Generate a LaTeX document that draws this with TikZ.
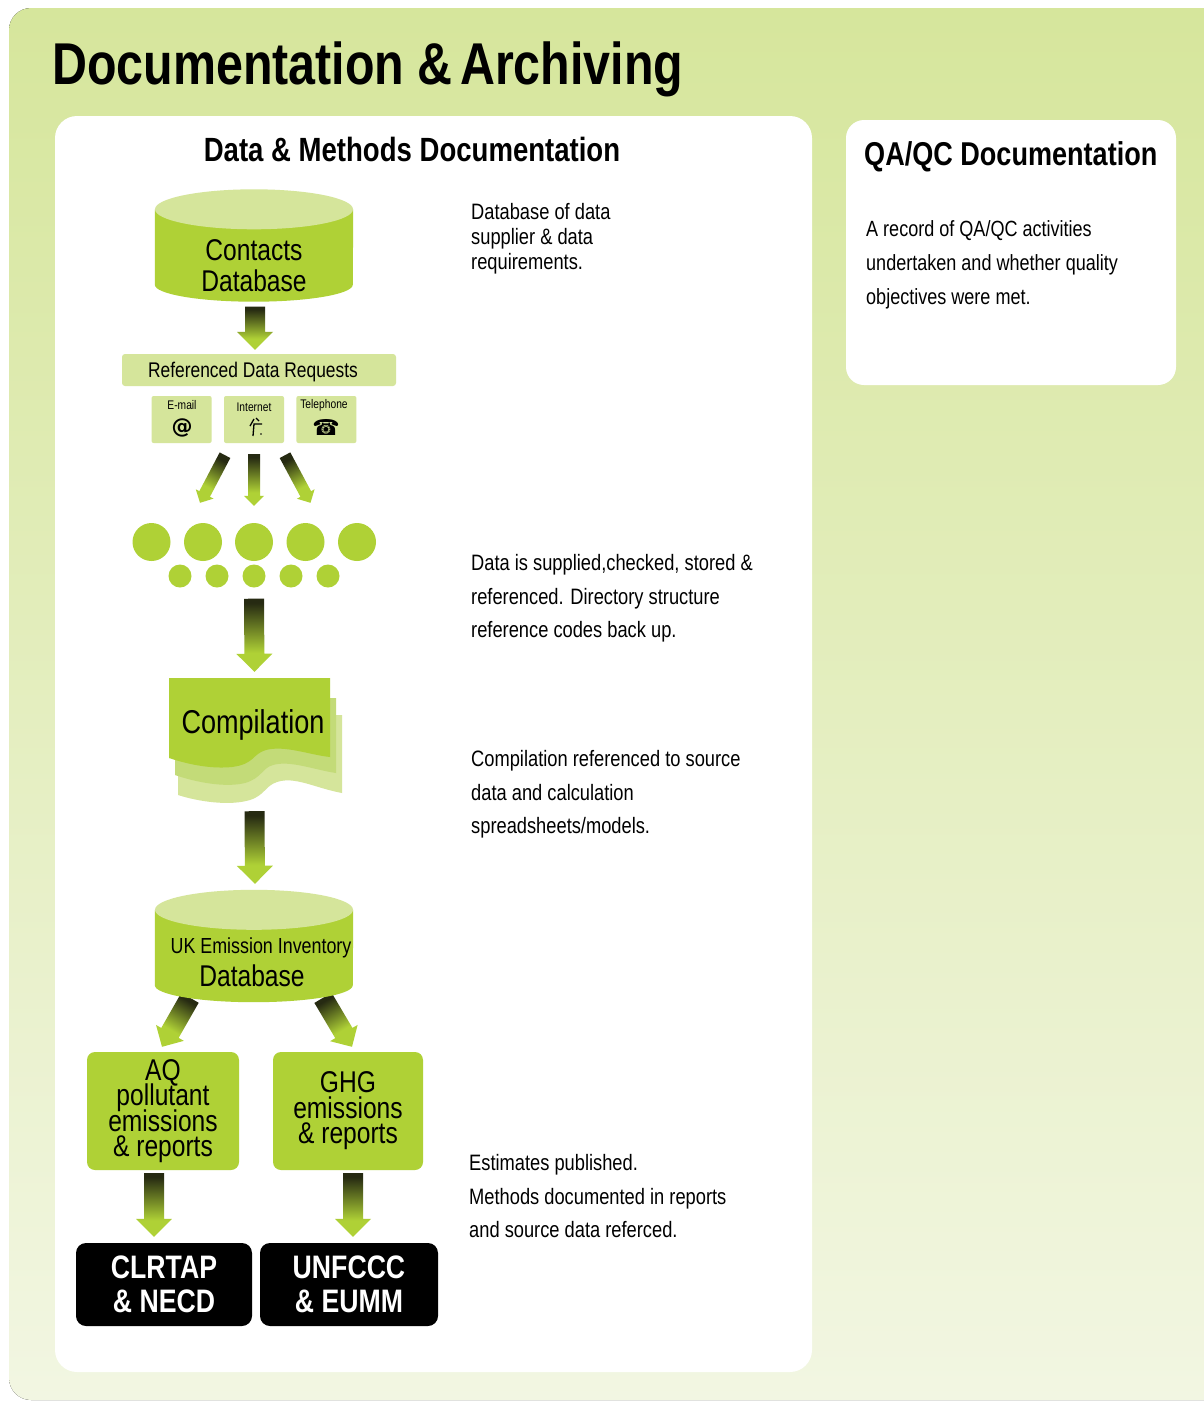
\documentclass[tikz,border=0pt]{standalone}
\usepackage{fontspec}
\usepackage{xcolor}
\setmainfont[FakeStretch=0.82]{Liberation Sans}
\newfontfamily\iconfont{DejaVu Sans}
\usetikzlibrary{calc,positioning}

\definecolor{leaf}{HTML}{AFD136}
\definecolor{pale}{HTML}{D5E59B}
\definecolor{midleaf}{HTML}{C3DB78}
\definecolor{flowdark}{HTML}{262A12}
\definecolor{paneltop}{HTML}{D6E69C}
\definecolor{panelbottom}{HTML}{F2F6E2}

\pgfdeclareverticalshading{flowshade}{100bp}{color(0bp)=(leaf); color(38bp)=(leaf); color(72bp)=(flowdark); color(100bp)=(flowdark)}

\newcommand{\fs}[2]{\fontsize{#1}{#2}\selectfont\lineskiplimit=-30pt}

% [shading angle]{tail}{tip}{body width}{head width}
\newcommand{\flowarrow}[5][0]{
  \coordinate (tail) at (#2);
  \coordinate (tip) at (#3);
  \pgfmathsetmacro\halfbody{#4/2}
  \pgfmathsetmacro\halfhead{#5/2}
  \coordinate (neck) at ($(tip)!\halfhead pt!(tail)$);
  \path[shading=flowshade, shading angle=#1]
    ($(tail)!\halfbody pt!90:(tip)$) -- ($(neck)!\halfbody pt!90:(tip)$)
    -- ($(neck)!\halfhead pt!90:(tip)$) -- (tip)
    -- ($(neck)!\halfhead pt!-90:(tip)$) -- ($(neck)!\halfbody pt!-90:(tip)$)
    -- ($(tail)!\halfbody pt!-90:(tip)$) -- cycle;
}

% {name}{centre}
\newcommand{\drum}[2]{
  \node[inner sep=0pt, minimum width=198pt, minimum height=112pt] (#1) at (#2) {};
  \fill[leaf] ($(#1.north west)+(0,20)$) -- ($(#1.south west)+(0,-17)$)
    arc[start angle=180, end angle=360, x radius=99pt, y radius=17pt]
    -- ($(#1.north east)+(0,20)$) -- cycle;
  \fill[pale] ($(#1.north)+(0,20)$) ellipse (99pt and 20pt);
}

\begin{document}
\begin{tikzpicture}[
      x=1pt, y=-1pt,
      panel/.style={fill=white, rounded corners=#1},
      request/.style={
            fill=pale, rounded corners=2pt, inner sep=0pt,
            minimum width=60pt, minimum height=47pt
        },
      output/.style={
            fill=leaf, rounded corners=8pt, inner sep=0pt, align=center,
            minimum height=118pt, text=black, font=\fs{30}{25.5}
        },
      body/.style={
            fill=black, rounded corners=10pt, inner sep=0pt, align=center,
            minimum height=83pt, text=white, font=\bfseries\fs{32.5}{34}
        },
      inside/.style={inner sep=0pt, align=center, text=black, font=\fs{30}{31}},
      note/.style={inner sep=0pt, anchor=west, align=left, text=black},
      tiny/.style={inner sep=0pt, text=black, font=\fs{12.5}{14}}
      ]
    \useasboundingbox (0,0) rectangle (1204,1401);

    \fill[top color=paneltop, bottom color=panelbottom, rounded corners=22pt]
      (9,8) rectangle (1240,1400);
    \node[inner sep=0pt, anchor=west, font=\bfseries\fs{59}{60}] (title) at (52,69) {Documentation \&\kern-6pt\ Archiving};

    \path[panel=22pt] (55,116) rectangle (812,1372);
    \path[panel=18pt] (846,120) rectangle (1176,385);

    \node[inner sep=0pt, font=\bfseries\fs{33.6}{34}] (methods) at (412,149) {Data \& Methods Documentation};
    \node[inner sep=0pt, anchor=west, font=\bfseries\fs{33}{34}] (qaqc) at (864,157) {QA/QC Documentation};
    \node[note, font=\fs{22}{34}] (qanote) at (866,265) {A record of QA/QC activities\\undertaken and whether quality\\objectives were met.};

    % left column
    \drum{contacts}{254,245.5}
    \node[inside] (contactstext) at (254,266) {Contacts\\Database};

    \node[fill=pale, rounded corners=3pt, inner sep=0pt, minimum width=274pt, minimum height=32pt] (requests) at (259,370) {};
    \node[inside, font=\fs{21.2}{22}] (requeststext) at (253,372) {Referenced Data Requests};

    \node[request] (internet) at (254,419.5) {};
    \node[request, left=12pt of internet] (email) {};
    \node[request, right=12pt of internet] (telephone) {};
    \node[tiny] (emailtext) at (182,405) {E-mail};
    \node[tiny] (internettext) at (254,407) {Internet};
    \node[tiny] (telephonetext) at (324,405) {Telephone};
    \node[inner sep=0pt, font=\iconfont\bfseries\fs{21}{22}] (emailicon) at (182,428) {@};
    \node[inner sep=0pt, font=\iconfont\fs{22}{23}] (telephoneicon) at (326,427) {☎};
    \draw[line width=1.3pt] (253,436) -- (254,424) -- (262,424) (250,426) -- (254,419) (256,418) -- (259,421);
    \fill (261,434) circle (0.9pt);

    \foreach \bigx [count=\i] in {151.5,203,254,305.5,357}
      \node[circle, fill=leaf, inner sep=0pt, minimum size=38pt] (big\i) at (\bigx,542) {};
    \foreach \smallx [count=\i] in {180,217,254,291,328}
      \node[circle, fill=leaf, inner sep=0pt, minimum size=23pt] (small\i) at (\smallx,576) {};

    \fill[pale] (178,770) -- (178,715) -- (342,715) -- (342,793)
      .. controls (315,788) and (295,776) .. (277,782)
      .. controls (265,786) and (265,795) .. (250,800)
      .. controls (230,806) and (200,802) .. (178,795) -- cycle;
    \fill[midleaf] (175,740) -- (175,698) -- (336,698) -- (336,773)
      .. controls (315,770) and (290,760) .. (273,765)
      .. controls (262,768) and (262,778) .. (245,783)
      .. controls (225,788) and (195,782) .. (175,775) -- cycle;
    \fill[leaf] (169,678) -- (330,678) -- (330,757)
      .. controls (310,755) and (285,745) .. (266,750)
      .. controls (252,754) and (255,764) .. (232,767)
      .. controls (212,769) and (190,765) .. (169,758) -- cycle;
    \node[inner sep=0pt, minimum width=161pt, minimum height=79pt] (sheet) at (249.5,717.5) {};
    \node[inside, font=\fs{33}{34}] (compilation) at (253,725) {Compilation};

    \node[output, minimum width=152pt] (aq) at (163,1111) {AQ\\pollutant\\emissions\\\& reports};
    \node[output, minimum width=150pt] (ghg) at (348,1111) {GHG\\emissions\\\& reports};
    \node[body, minimum width=176pt] (clrtap) at (164,1284.5) {CLRTAP\\\& NECD};
    \node[body, minimum width=178pt] (unfccc) at (349,1284.5) {UNFCCC\\\& EUMM};

    \flowarrow[-30]{$(aq.north)+(27,-54)$}{$(aq.north)+(-1,-5)$}{20}{32}
    \flowarrow[30]{$(ghg.north)+(-25,-54)$}{$(ghg.north)+(4,-5)$}{20}{32}

    \drum{inventory}{254,946}
    \node[inside, font=\fs{21.8}{23}] (inventorytext) at (261,948) {UK Emission Inventory};
    \node[inside] (inventoryname) at (252,976) {Database};

    \flowarrow{$(contacts.south)+(1,5)$}{$(requests.north)+(-4,-4)$}{20}{36}
    \flowarrow[-28]{$(internet.south)+(-29,12)$}{$(big2.north)+(-3,-20)$}{12}{20}
    \flowarrow{$(internet.south)+(0,11)$}{$(big3.north)+(0,-17)$}{12}{20}
    \flowarrow[28]{$(internet.south)+(31,12)$}{$(big4.north)+(5,-20)$}{12}{20}
    \flowarrow{$(small3.south)+(0,11)$}{$(sheet.north)+(5,-6)$}{20}{36}
    \flowarrow{$(sheet.south)+(5,54)$}{$(inventory.north)+(1,-6)$}{20}{36}
    \flowarrow{$(aq.south)+(-9,3)$}{$(clrtap.north)+(-10,-6)$}{20}{36}
    \flowarrow{$(ghg.south)+(5,3)$}{$(unfccc.north)+(4,-6)$}{20}{36}

    % notes on the right
    \node[note, font=\fs{22.3}{25}] (note1) at (471,239) {Database of data\\supplier \& data\\requirements.};
    \node[note, font=\fs{22.3}{33.5}] (note2) at (471,598.5) {Data is supplied,checked, stored \&\\referenced. Directory structure\\reference codes back up.};
    \node[note, font=\fs{22.3}{33.5}] (note3) at (471,794.5) {Compilation referenced to source\\data and calculation\\spreadsheets/models.};
    \node[note, font=\fs{22.3}{33.5}] (note4) at (469,1196.5) {Estimates published.\\Methods documented in reports\\and source data referced.};
  \end{tikzpicture}
\end{document}
